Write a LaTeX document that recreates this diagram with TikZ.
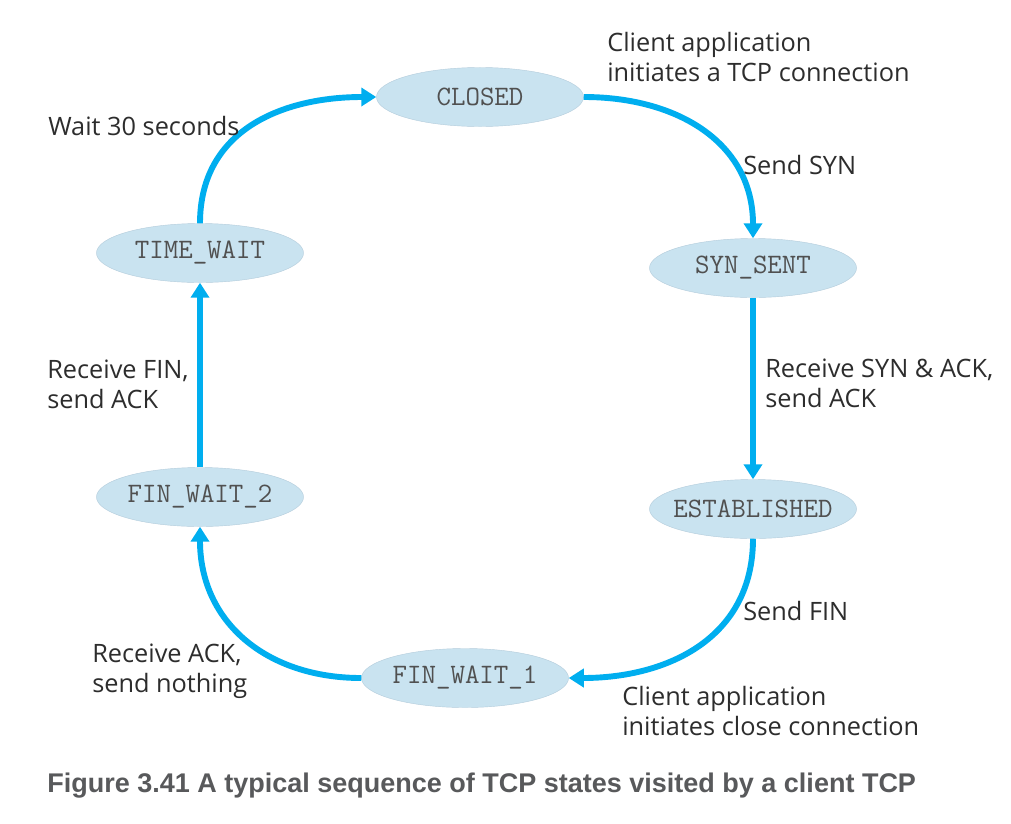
\documentclass[tikz,border=0pt]{standalone}
\usepackage{fontspec}
\setmainfont{Open Sans}
\newfontfamily\capfont{Liberation Sans}
\usetikzlibrary{arrows.meta,shapes.geometric}

\definecolor{tcpblue}{RGB}{0,174,239}
\definecolor{statefill}{RGB}{201,227,240}
\definecolor{stateline}{RGB}{180,205,220}
\definecolor{statetext}{RGB}{80,80,80}
\definecolor{labelgray}{RGB}{45,45,45}
\definecolor{capgray}{RGB}{88,89,91}

\begin{document}
\begin{tikzpicture}[x=0.025cm,y=0.025cm,
    state/.style={ellipse,fill=statefill,draw=stateline,line width=0.3pt,minimum width=5.175cm,minimum height=1.475cm,inner xsep=-8pt,inner ysep=0pt,text=statetext,font=\ttfamily\fontsize{20}{22}\selectfont},
    note/.style={anchor=base west,align=left,inner sep=0pt,text=labelgray,font=\fontsize{18}{21.3}\selectfont},
    trans/.style={color=tcpblue,line width=4.2pt,-{Triangle[width=0.45cm,length=0.375cm]}}]
    \fill[white] (0,0) rectangle (1011,-823);
    \useasboundingbox (0,0) rectangle (1011,-823);
    % states, clockwise from the top
    \node[state] (closed) at (480,-97) {CLOSED};
    \node[state] (synsent) at (753,-268) {SYN\_SENT};
    \node[state] (established) at (753,-509) {ESTABLISHED};
    \node[state] (finwait1) at (465,-678) {FIN\_WAIT\_1};
    \node[state] (finwait2) at (200,-497) {FIN\_WAIT\_2};
    \node[state] (timewait) at (200,-253) {TIME\_WAIT};
    \path[trans]
        (closed) edge [out=0,in=90,looseness=1.1] (synsent)
        (synsent) edge (established)
        (established) edge [out=-90,in=0,looseness=1.1] (finwait1)
        (finwait1) edge [out=180,in=-90,looseness=1.1] (finwait2)
        (finwait2) edge (timewait)
        (timewait) edge [out=90,in=180,looseness=1.1] (closed)
    ;
    % transition labels (base = last line)
    \node[note] (lopen) at (607,-81) {Client application\\initiates a TCP connection};
    \node[note] (lsyn) at (743,-174) {Send SYN};
    \node[note] (lsynack) at (765,-407) {Receive SYN \& ACK,\\send ACK};
    \node[note] (lfin) at (743,-620) {Send FIN};
    \node[note] (lclose) at (622,-735) {Client application\\initiates close connection};
    \node[note] (lackn) at (92,-692) {Receive ACK,\\send nothing};
    \node[note] (lfinack) at (47,-408) {Receive FIN,\\send ACK};
    \node[note] (lwait) at (48,-135) {Wait 30 seconds};
    \node[anchor=base west,inner sep=0pt,text=capgray,font=\capfont\bfseries\fontsize{19.2}{22}\selectfont] (caption) at (47,-792) {Figure 3.41 A typical sequence of TCP states visited by a client TCP};
\end{tikzpicture}
\end{document}
